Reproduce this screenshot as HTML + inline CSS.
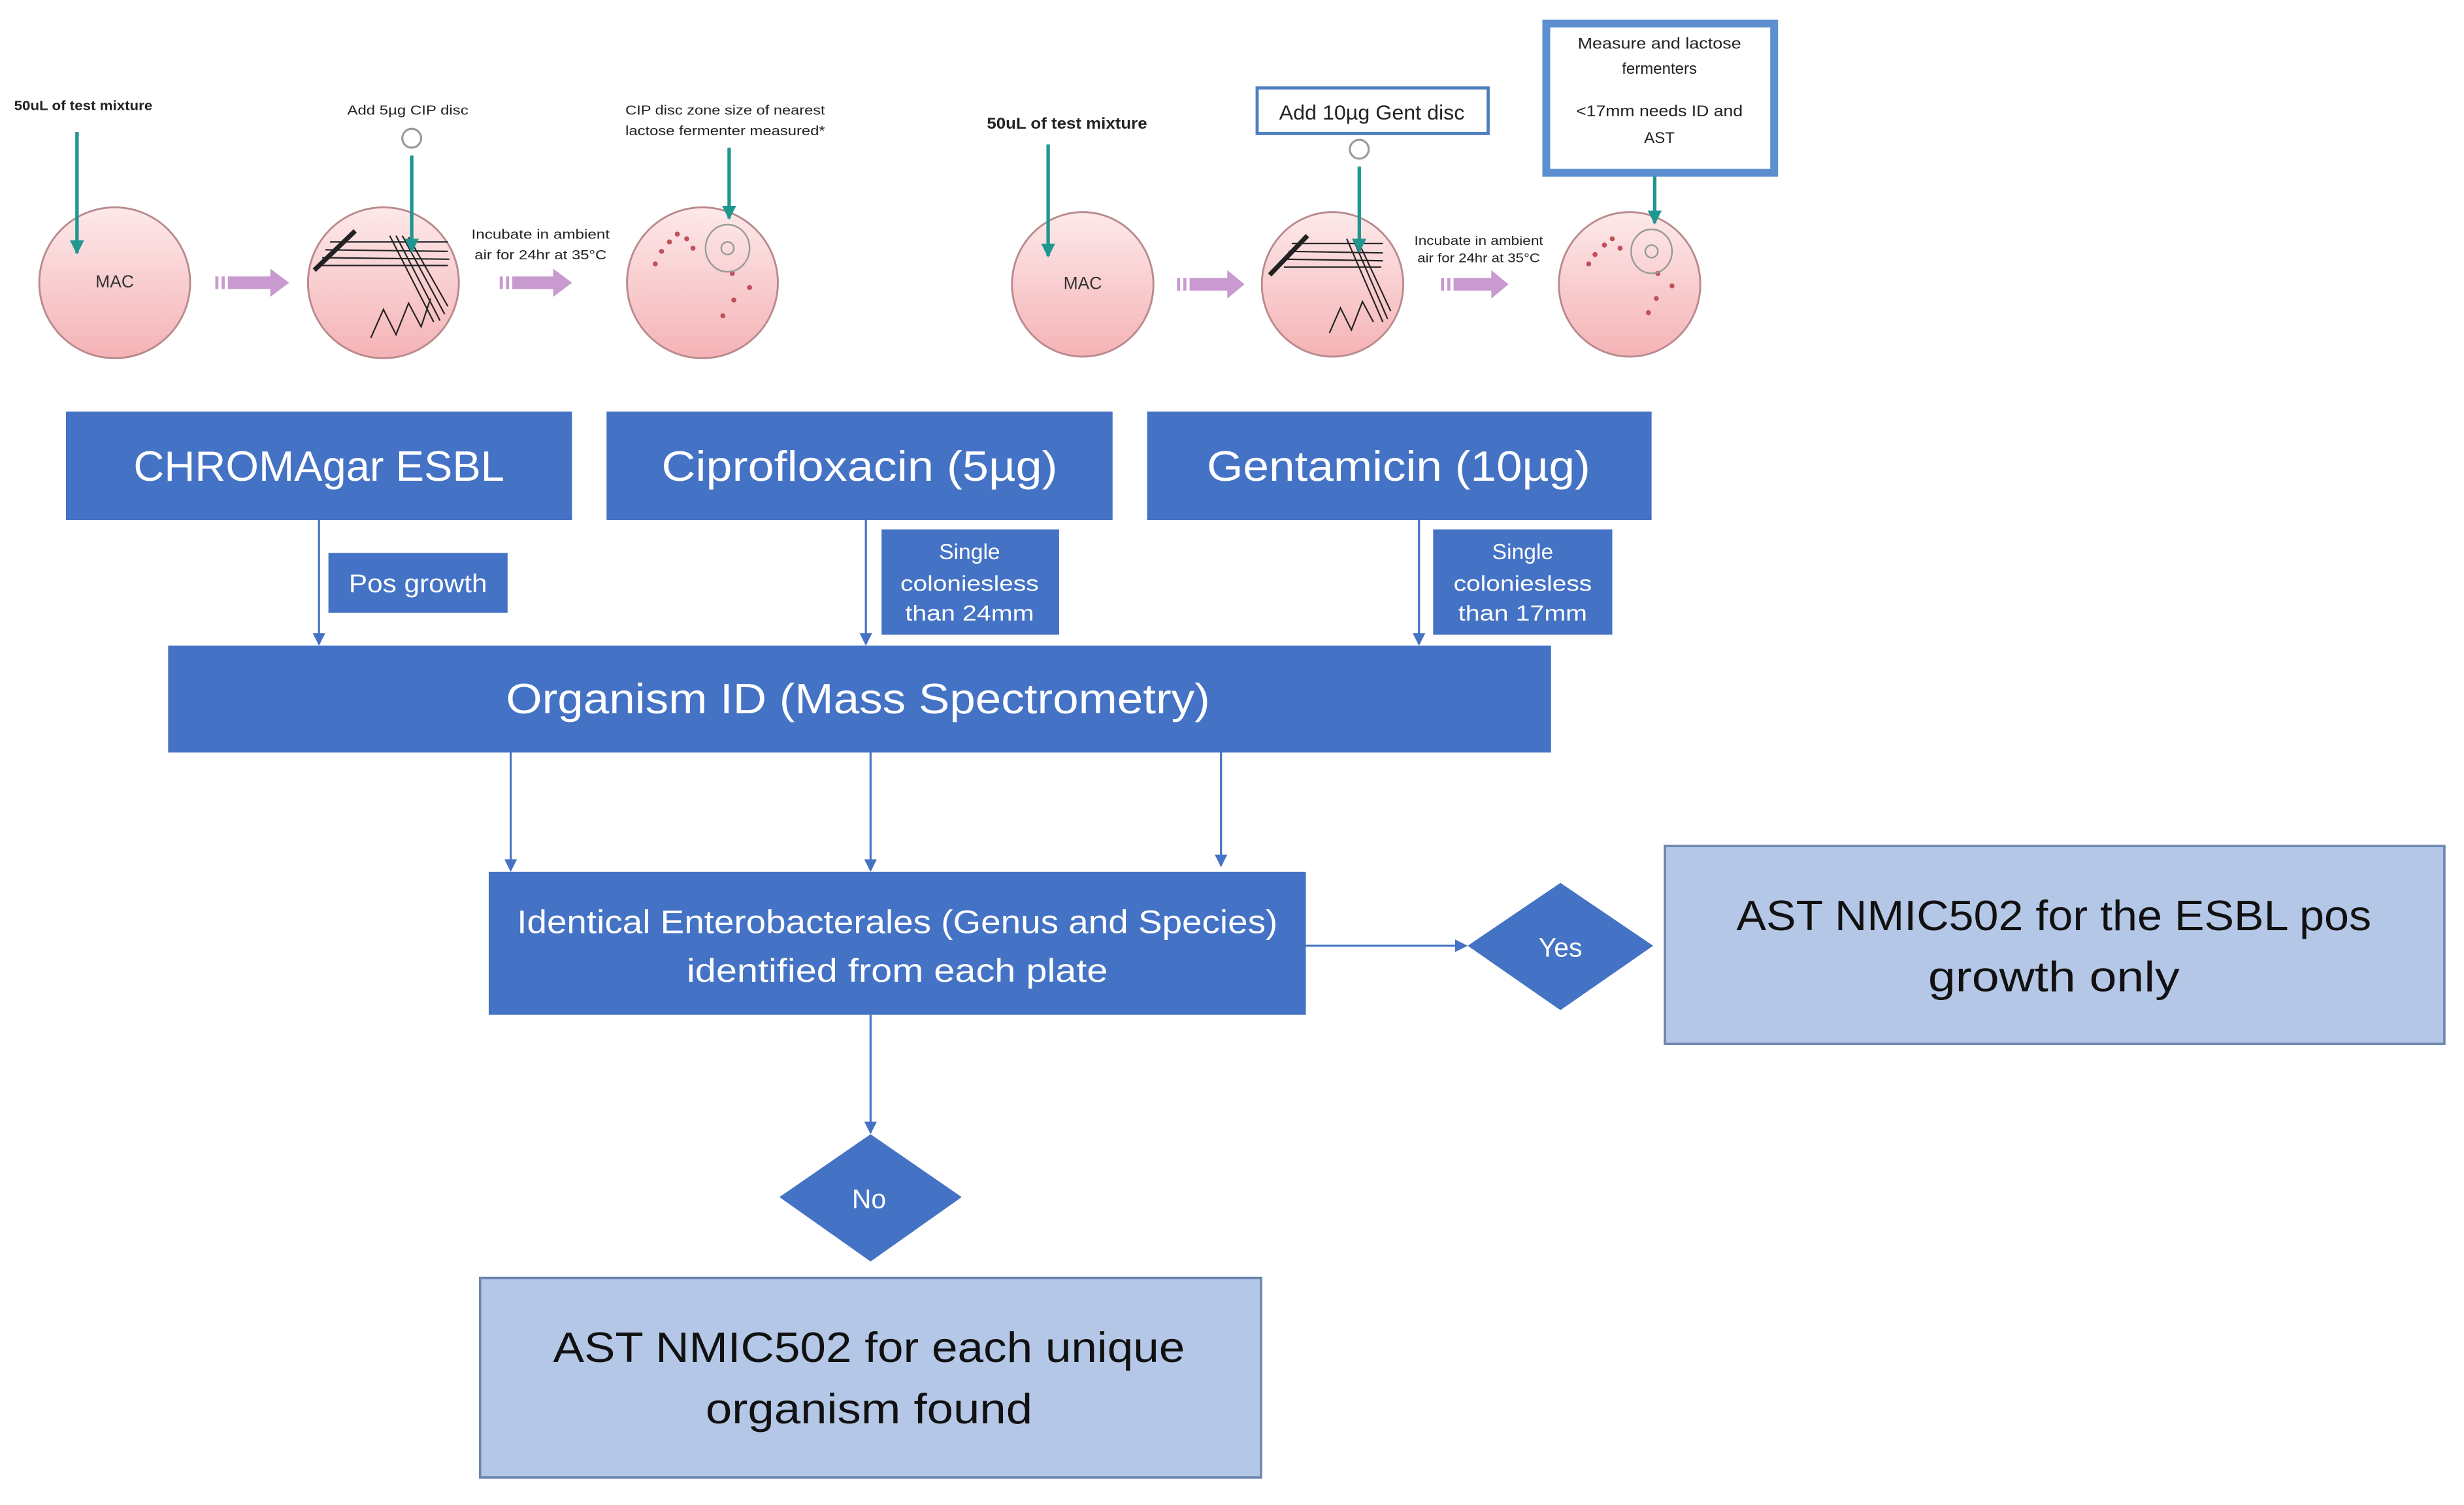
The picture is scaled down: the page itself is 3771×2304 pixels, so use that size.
<!DOCTYPE html>
<html><head><meta charset="utf-8"><style>
html,body{margin:0;padding:0;background:#fff;}
svg{display:block;}
text{font-family:"Liberation Sans",sans-serif;}
</style></head><body>
<svg width="3771" height="2304" viewBox="0 0 1568 958" preserveAspectRatio="none" xmlns="http://www.w3.org/2000/svg">
<defs>
<linearGradient id="pk" x1="0" y1="0" x2="0" y2="1">
<stop offset="0" stop-color="#fde9ea"/><stop offset="1" stop-color="#f5b3b6"/>
</linearGradient>
<marker id="ab" markerWidth="8" markerHeight="8" refX="7" refY="4" orient="auto" markerUnits="userSpaceOnUse"><path d="M0,0 L8,4 L0,8 z" fill="#4472C4"/></marker>
<marker id="at" markerWidth="9" markerHeight="9" refX="8" refY="4.5" orient="auto" markerUnits="userSpaceOnUse"><path d="M0,0 L9,4.5 L0,9 z" fill="#1f968f"/></marker>
</defs>
<rect width="1568" height="958" fill="#fff"/>

<!-- plates row -->
<g stroke="#b98a8c" stroke-width="1.2" fill="url(#pk)">
<ellipse cx="73" cy="180" rx="48" ry="48"/>
<ellipse cx="244" cy="180" rx="48" ry="48"/>
<ellipse cx="447" cy="180" rx="48" ry="48"/>
<ellipse cx="689" cy="181" rx="45" ry="46"/>
<ellipse cx="848" cy="181" rx="45" ry="46"/>
<ellipse cx="1037" cy="181" rx="45" ry="46"/>
</g>
<text x="73" y="183" font-size="11" text-anchor="middle" fill="#333">MAC</text>
<text x="689" y="184" font-size="11" text-anchor="middle" fill="#333">MAC</text>

<!-- streaks -->
<g stroke="#222" stroke-width="0.9" fill="none">
<path d="M210,154 L285,154 M207,159 L285,160 M205,164 L286,165 M203,169 L285,169"/>
<path d="M248,150 L276,205 M252,150 L280,204 M256,150 L283,200 M260,151 L285,195"/>
<path d="M236,215 L244,197 L252,213 L260,193 L268,208 L274,190"/>
<path d="M200,172 L226,147" stroke-width="3"/>
<path d="M822,155 L880,155 M820,160 L880,161 M818,165 L880,166 M817,170 L879,170"/>
<path d="M857,152 L880,205 M861,152 L883,203 M864,153 L885,198"/>
<path d="M846,212 L853,196 L860,210 L867,192 L874,205"/>
<path d="M808,175 L832,150" stroke-width="3"/>
</g>
<!-- colonies -->
<g fill="#c0505a">
<circle cx="421" cy="160" r="1.6"/><circle cx="426" cy="154" r="1.6"/><circle cx="431" cy="149" r="1.6"/><circle cx="437" cy="152" r="1.6"/><circle cx="441" cy="158" r="1.6"/><circle cx="417" cy="168" r="1.6"/>
<circle cx="466" cy="174" r="1.6"/><circle cx="477" cy="183" r="1.6"/><circle cx="467" cy="191" r="1.6"/><circle cx="460" cy="201" r="1.6"/>
<circle cx="1015" cy="162" r="1.6"/><circle cx="1021" cy="156" r="1.6"/><circle cx="1026" cy="152" r="1.6"/><circle cx="1031" cy="158" r="1.6"/><circle cx="1011" cy="168" r="1.6"/>
<circle cx="1055" cy="174" r="1.6"/><circle cx="1064" cy="182" r="1.6"/><circle cx="1054" cy="190" r="1.6"/><circle cx="1049" cy="199" r="1.6"/>
</g>
<g fill="none" stroke="#999" stroke-width="1">
<ellipse cx="463" cy="158" rx="14" ry="15"/><circle cx="463" cy="158" r="4"/>
<ellipse cx="1051" cy="160" rx="13" ry="14"/><circle cx="1051" cy="160" r="4"/>
<circle cx="262" cy="88" r="6" stroke-width="1.3"/>
<circle cx="865" cy="95" r="6" stroke-width="1.3"/>
</g>

<!-- teal arrows -->
<g stroke="#1f968f" stroke-width="2.2" marker-end="url(#at)">
<line x1="49" y1="84" x2="49" y2="161"/>
<line x1="262" y1="99" x2="262" y2="160"/>
<line x1="464" y1="94" x2="464" y2="139"/>
<line x1="667" y1="92" x2="667" y2="163"/>
<line x1="865" y1="106" x2="865" y2="160"/>
<line x1="1053" y1="111" x2="1053" y2="142"/>
</g>

<!-- pink arrows -->
<g fill="#c99ad0">
<rect x="137" y="176" width="2" height="8"/><rect x="141" y="176" width="2" height="8"/><path d="M145,176 L172,176 L172,171 L184,180 L172,189 L172,184 L145,184 z"/>
<rect x="318" y="176" width="2" height="8"/><rect x="322" y="176" width="2" height="8"/><path d="M326,176 L352,176 L352,171 L364,180 L352,189 L352,184 L326,184 z"/>
<rect x="749" y="177" width="2" height="8"/><rect x="753" y="177" width="2" height="8"/><path d="M757,177 L781,177 L781,172 L792,181 L781,190 L781,185 L757,185 z"/>
<rect x="917" y="177" width="2" height="8"/><rect x="921" y="177" width="2" height="8"/><path d="M925,177 L949,177 L949,172 L960,181 L949,190 L949,185 L925,185 z"/>
</g>

<!-- top small texts -->
<g font-size="8.5" fill="#222">
<text x="9" y="70" font-weight="bold" textLength="88" lengthAdjust="spacingAndGlyphs">50uL of test mixture</text>
<text x="221" y="73" textLength="77" lengthAdjust="spacingAndGlyphs">Add 5µg CIP disc</text>
<text x="398" y="73" textLength="127" lengthAdjust="spacingAndGlyphs">CIP disc zone size of nearest</text>
<text x="398" y="86" textLength="127" lengthAdjust="spacingAndGlyphs">lactose fermenter measured*</text>
<text x="300" y="152" textLength="88" lengthAdjust="spacingAndGlyphs">Incubate in ambient</text>
<text x="302" y="165" textLength="84" lengthAdjust="spacingAndGlyphs">air for 24hr at 35°C</text>
<text x="628" y="82" font-size="10" font-weight="bold" textLength="102" lengthAdjust="spacingAndGlyphs">50uL of test mixture</text>
<text x="900" y="156" font-size="8" textLength="82" lengthAdjust="spacingAndGlyphs">Incubate in ambient</text>
<text x="902" y="167" font-size="8" textLength="78" lengthAdjust="spacingAndGlyphs">air for 24hr at 35°C</text>
</g>
<rect x="800" y="56" width="147" height="29" fill="#fff" stroke="#4f7fbf" stroke-width="2"/>
<text x="873" y="76" font-size="13" text-anchor="middle" fill="#222" textLength="118" lengthAdjust="spacingAndGlyphs">Add 10µg Gent disc</text>
<rect x="984" y="15" width="145" height="95" fill="#fff" stroke="#5b8fd0" stroke-width="5"/>
<g font-size="10" fill="#222" text-anchor="middle">
<text x="1056" y="31" textLength="104" lengthAdjust="spacingAndGlyphs">Measure and lactose</text>
<text x="1056" y="47">fermenters</text>
<text x="1056" y="74" textLength="106" lengthAdjust="spacingAndGlyphs">&lt;17mm needs ID and</text>
<text x="1056" y="91">AST</text>
</g>

<!-- main boxes -->
<g fill="#4472C4">
<rect x="42" y="262" width="322" height="69"/>
<rect x="386" y="262" width="322" height="69"/>
<rect x="730" y="262" width="321" height="69"/>
<rect x="209" y="352" width="114" height="38"/>
<rect x="561" y="337" width="113" height="67"/>
<rect x="912" y="337" width="114" height="67"/>
<rect x="107" y="411" width="880" height="68"/>
<rect x="311" y="555" width="520" height="91"/>
<path d="M993,562 L1052,602 L993,643 L934,602 z"/>
<path d="M554,722 L612,762 L554,803 L496,762 z"/>
</g>
<g fill="#fff" text-anchor="middle">
<text x="203" y="306" font-size="27" textLength="236" lengthAdjust="spacingAndGlyphs">CHROMAgar ESBL</text>
<text x="547" y="306" font-size="27" textLength="252" lengthAdjust="spacingAndGlyphs">Ciprofloxacin (5µg)</text>
<text x="890" y="306" font-size="27" textLength="244" lengthAdjust="spacingAndGlyphs">Gentamicin (10µg)</text>
<text x="266" y="377" font-size="16" textLength="88" lengthAdjust="spacingAndGlyphs">Pos growth</text>
<text x="617" y="356" font-size="14">Single</text>
<text x="617" y="376" font-size="14" textLength="88" lengthAdjust="spacingAndGlyphs">coloniesless</text>
<text x="617" y="395" font-size="14" textLength="82" lengthAdjust="spacingAndGlyphs">than 24mm</text>
<text x="969" y="356" font-size="14">Single</text>
<text x="969" y="376" font-size="14" textLength="88" lengthAdjust="spacingAndGlyphs">coloniesless</text>
<text x="969" y="395" font-size="14" textLength="82" lengthAdjust="spacingAndGlyphs">than 17mm</text>
<text x="546" y="454" font-size="27" textLength="448" lengthAdjust="spacingAndGlyphs">Organism ID (Mass Spectrometry)</text>
<text x="571" y="594" font-size="21" textLength="484" lengthAdjust="spacingAndGlyphs">Identical Enterobacterales (Genus and Species)</text>
<text x="571" y="625" font-size="21" textLength="268" lengthAdjust="spacingAndGlyphs">identified from each plate</text>
<text x="993" y="609" font-size="17">Yes</text>
<text x="553" y="769" font-size="17">No</text>
</g>

<!-- result boxes -->
<rect x="1059.5" y="538.5" width="496" height="126" fill="#B4C7E7" stroke="#6c86ad" stroke-width="1.5"/>
<rect x="305.5" y="813.5" width="497" height="127" fill="#B4C7E7" stroke="#6c86ad" stroke-width="1.5"/>
<g fill="#111" text-anchor="middle" font-size="27">
<text x="1307" y="592" textLength="404" lengthAdjust="spacingAndGlyphs">AST NMIC502 for the ESBL pos</text>
<text x="1307" y="631" textLength="160" lengthAdjust="spacingAndGlyphs">growth only</text>
<text x="553" y="867" textLength="402" lengthAdjust="spacingAndGlyphs">AST NMIC502 for each unique</text>
<text x="553" y="906" textLength="208" lengthAdjust="spacingAndGlyphs">organism found</text>
</g>

<!-- connectors -->
<g stroke="#4472C4" stroke-width="1.3" marker-end="url(#ab)">
<line x1="203" y1="331" x2="203" y2="410"/>
<line x1="551" y1="331" x2="551" y2="410"/>
<line x1="903" y1="331" x2="903" y2="410"/>
<line x1="325" y1="479" x2="325" y2="554"/>
<line x1="554" y1="479" x2="554" y2="554"/>
<line x1="777" y1="479" x2="777" y2="551"/>
<line x1="554" y1="646" x2="554" y2="721"/>
<line x1="831" y1="602" x2="933" y2="602"/>
</g>
</svg>
</body></html>
